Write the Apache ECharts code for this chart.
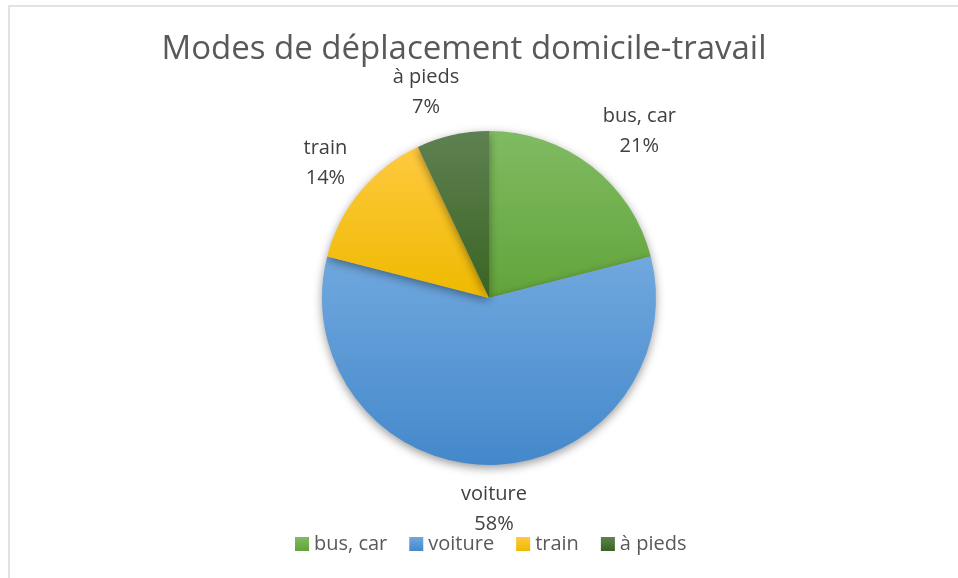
<!DOCTYPE html>
<html>
<head>
<meta charset="utf-8">
<script src="https://cdn.jsdelivr.net/npm/echarts@6/dist/echarts.min.js"></script>
<style>
  html, body { margin: 0; padding: 0; background: #fff; }
  #chart { width: 958px; height: 578px; }
</style>
</head>
<body>
<div id="chart"></div>
<script>
// data
var titleText = 'Modes de déplacement domicile-travail';
var modes = ['bus, car', 'voiture', 'train', 'à pieds'];
var shares = [21, 58, 14, 7];
// top / bottom gradient colours per slice
var colTop = ['#80bb62', '#70a8de', '#ffc93f', '#5f8152'];
var colBottom = ['#62a43a', '#4488cb', '#eeba00', '#3a6421'];

// small horizontal nudges, like Excel's "best fit" label placement
var labelNudge = { 'bus, car': 16, 'voiture': 0, 'train': 4, 'à pieds': -12 };

var chart = echarts.init(document.getElementById('chart'));

function grad(i) {
    return new echarts.graphic.LinearGradient(0, 0, 0, 1, [
        { offset: 0, color: colTop[i] },
        { offset: 1, color: colBottom[i] }
    ]);
}

var pieData = [];
for (var i = 0; i < modes.length; i++) {
    pieData.push({ name: modes[i], value: shares[i], itemStyle: { color: grad(i) } });
}

var option = {
    backgroundColor: '#fff',
    animation: false,
    title: {
        text: titleText,
        left: 459,
        textAlign: 'center',
        top: 28,
        textStyle: {
            fontFamily: 'Open Sans',
            fontSize: 33,
            fontWeight: 'normal',
            color: '#595959'
        }
    },
    legend: {
        bottom: 19,
        left: 290,
        icon: 'rect',
        itemWidth: 14,
        itemHeight: 14,
        itemGap: 22,
        textStyle: {
            fontFamily: 'Open Sans',
            fontSize: 20,
            color: '#595959'
        },
        data: modes.map(function (m, i) {
            return { name: m, itemStyle: { color: grad(i) } };
        })
    },
    graphic: [{
        type: 'rect',
        shape: { x: 9, y: 6, width: 980, height: 600 },
        style: { fill: 'none', stroke: '#d9d9d9', lineWidth: 1.5 },
        silent: true
    }],
    series: [{
        type: 'pie',
        center: [489, 298],
        radius: 167,
        startAngle: 90,
        clockwise: true,
        percentPrecision: 0,
        data: pieData,
        itemStyle: {
            shadowBlur: 10,
            shadowColor: 'rgba(0,0,0,0.4)',
            shadowOffsetY: 3
        },
        label: {
            position: 'outside',
            formatter: '{b}\n{d}%',
            fontFamily: 'Open Sans',
            fontSize: 20,
            lineHeight: 30,
            color: '#404040'
        },
        labelLine: { show: false, length: 44, length2: 0 },
        labelLayout: function (params) {
            var name = modes[params.dataIndex];
            return {
                dx: labelNudge[name] || 0,
                align: 'center',
                verticalAlign: 'middle'
            };
        },
        emphasis: { disabled: true }
    }]
};

chart.setOption(option);
</script>
</body>
</html>
